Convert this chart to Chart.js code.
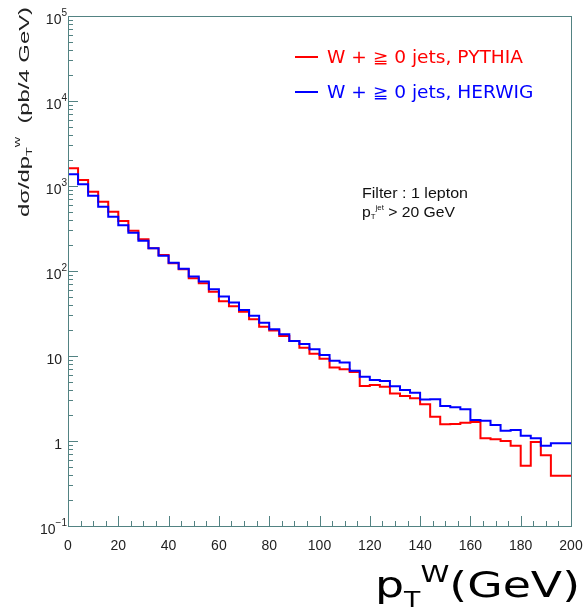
<!DOCTYPE html>
<html>
<head>
<meta charset="utf-8">
<script src="https://cdn.jsdelivr.net/npm/chart.js@4.4.1/dist/chart.umd.min.js"></script>
<style>
  html, body { margin: 0; padding: 0; background: #fff; }
  canvas { display: block; }
</style>
</head>
<body>
<canvas id="ptwChart" width="586" height="616"></canvas>
<script>
// bin lower edges (GeV), 4 GeV bins
const binEdges = [0, 4, 8, 12, 16, 20, 24, 28, 32, 36, 40, 44, 48, 52, 56, 60, 64, 68, 72, 76,
  80, 84, 88, 92, 96, 100, 104, 108, 112, 116, 120, 124, 128, 132, 136, 140, 144, 148, 152, 156,
  160, 164, 168, 172, 176, 180, 184, 188, 192, 196];
const binUpper = 200;

// dsigma/dpT (pb / 4 GeV)
const pythia = [1410, 1615, 1177, 857, 654, 499, 388, 298, 236, 185,
  154, 123, 105, 82, 72, 57, 44, 38.5, 33.2, 27,
  22.1, 19.9, 17.2, 15.0, 12.5, 10.6, 9.3, 7.3, 7.0, 6.5,
  4.44, 4.56, 4.35, 3.62, 3.39, 3.18, 2.71, 1.93, 1.57, 1.58,
  1.64, 1.67, 1.08, 1.05, 1.0, 0.88, 0.51, 0.97, 0.68, 0.39];
const herwig = [1008, 1373, 1047, 769, 571, 435, 345, 282, 227, 185,
  151, 125, 106, 86, 75, 61, 50, 42.6, 34.8, 29.8,
  24.6, 20.6, 18.0, 15.0, 13.8, 12.0, 10.3, 8.8, 8.4, 6.7,
  5.7, 5.22, 5.08, 4.4, 3.98, 3.7, 3.07, 3.1, 2.58, 2.49,
  2.36, 1.77, 1.73, 1.54, 1.32, 1.35, 1.15, 1.08, 0.88, 0.94];
const herwigFloor = 1; // blue outline starts from 1 at pT = 0

const seriesLabels = ['W + \u2267 0 jets, PYTHIA', 'W + \u2267 0 jets, HERWIG'];
const seriesColors = ['#ff0000', '#0000ff'];

const xTicks = [0, 20, 40, 60, 80, 100, 120, 140, 160, 180, 200];
const xMinorStep = 5;
const yDecades = [-1, 0, 1, 2, 3, 4, 5];
const yTickLabels = [['10', '\u22121'], ['1', ''], ['10', ''], ['10', '2'], ['10', '3'], ['10', '4'], ['10', '5']];

const filterLines = ['Filter : 1 lepton', '> 20 GeV'];

function histPoints(vals) {
  const pts = binEdges.map((x, i) => ({ x: x, y: vals[i] }));
  pts.push({ x: binUpper, y: vals[vals.length - 1] });
  return pts;
}

const herwigPts = [{ x: binEdges[0], y: herwigFloor }].concat(histPoints(herwig));

// draws a run of text pieces [text, size, dy], stretched to width w if given
function drawRich(ctx, pieces, x, y, family, w, align) {
  let total = 0;
  const widths = pieces.map(p => {
    ctx.font = p[1] + 'px ' + family;
    const m = ctx.measureText(p[0]).width;
    total += m;
    return m;
  });
  const s = w ? w / total : 1;
  let x0 = x;
  if (align === 'right') x0 = x - total * s;
  if (align === 'center') x0 = x - total * s / 2;
  ctx.save();
  ctx.translate(x0, y);
  ctx.scale(s, 1);
  ctx.textBaseline = 'alphabetic';
  ctx.textAlign = 'left';
  let cx = 0;
  pieces.forEach((p, i) => {
    ctx.font = p[1] + 'px ' + family;
    ctx.fillText(p[0], cx, p[2] || 0);
    cx += widths[i];
  });
  ctx.restore();
}

const frameColor = '#528282';
const sansFont = "'Liberation Sans', Arial, sans-serif";
const roundFont = "'DejaVu Sans', sans-serif";

const decorPlugin = {
  id: 'decor',
  afterDraw(chart) {
    const ctx = chart.ctx;
    const xs = chart.scales.x;
    const ys = chart.scales.y;
    const left = Math.round(xs.getPixelForValue(xs.min));
    const right = Math.round(xs.getPixelForValue(xs.max));
    const top = Math.round(ys.getPixelForValue(ys.max));
    const bottom = Math.round(ys.getPixelForValue(ys.min));

    ctx.save();
    ctx.strokeStyle = frameColor;
    ctx.lineWidth = 1;
    ctx.strokeRect(left + 0.5, top + 0.5, right - left, bottom - top);

    // y ticks (inside, left)
    ctx.beginPath();
    yDecades.forEach(e => {
      const base = Math.pow(10, e);
      let py = Math.round(ys.getPixelForValue(base)) + 0.5;
      ctx.moveTo(left, py); ctx.lineTo(left + 10, py);
      if (e < 5) {
        for (let m = 2; m <= 9; m++) {
          py = Math.round(ys.getPixelForValue(m * base)) + 0.5;
          ctx.moveTo(left, py); ctx.lineTo(left + 5, py);
        }
      }
    });
    // x ticks (inside, bottom)
    for (let v = xTicks[0]; v <= xTicks[xTicks.length - 1]; v += xMinorStep) {
      const px = Math.round(xs.getPixelForValue(v)) + 0.5;
      const len = xTicks.includes(v) ? 10 : 5;
      ctx.moveTo(px, bottom); ctx.lineTo(px, bottom - len);
    }
    ctx.stroke();

    // y tick labels
    ctx.fillStyle = '#222';
    yDecades.forEach((e, i) => {
      const py = ys.getPixelForValue(Math.pow(10, e));
      const lab = yTickLabels[i];
      if (lab[1]) {
        drawRich(ctx, [[lab[0], 14, 8], [lab[1], 10, 0]], left - 1, py, sansFont, 0, 'right');
      } else {
        drawRich(ctx, [[lab[0], 14, 8]], left - 6, py, sansFont, 0, 'right');
      }
    });

    // y axis title
    ctx.save();
    ctx.translate(29, 112);
    ctx.rotate(-Math.PI / 2);
    ctx.fillStyle = '#222';
    drawRich(ctx, [['d\u03c3/dp', 15, 0], ['T', 9, 3], ['w', 9, -9], ['  (pb/4 GeV)', 15, 0]],
      0, 0, sansFont, 210, 'center');
    ctx.restore();

    // legend
    const legendRows = [57, 92];
    ctx.font = '17px ' + roundFont;
    const legScale = 196 / ctx.measureText(seriesLabels[0]).width;
    seriesLabels.forEach((lab, i) => {
      const ly = legendRows[i];
      ctx.strokeStyle = seriesColors[i];
      ctx.lineWidth = 2;
      ctx.beginPath();
      ctx.moveTo(295, ly); ctx.lineTo(318, ly);
      ctx.stroke();
      ctx.fillStyle = seriesColors[i];
      ctx.font = '17px ' + roundFont;
      const w = ctx.measureText(lab).width * legScale;
      drawRich(ctx, [[lab, 17, 0]], 327, ly + 6, roundFont, w, 'left');
    });

    // filter note
    ctx.fillStyle = '#111';
    drawRich(ctx, [[filterLines[0], 14, 0]], 362, 198, sansFont, 106, 'left');
    drawRich(ctx, [['p', 14, 0], ['T', 7, 2], ['jet', 7, -7], [' ' + filterLines[1], 14, 0]],
      362, 217, sansFont, 93, 'left');

    // x axis title
    ctx.fillStyle = '#000';
    drawRich(ctx, [['p', 36, 0], ['T', 21, 10], ['W', 23, -15], ['(GeV)', 36, 0]],
      375, 597, roundFont, 205, 'left');
    ctx.restore();
  }
};

const ctx = document.getElementById('ptwChart').getContext('2d');

const ptwChart = new Chart(ctx, {
  type: 'line',
  data: {
    datasets: [{
      label: seriesLabels[0],
      data: histPoints(pythia),
      borderColor: seriesColors[0],
      borderWidth: 2,
      stepped: 'after',
      pointRadius: 0,
      fill: false,
      order: 1
    }, {
      label: seriesLabels[1],
      data: herwigPts,
      borderColor: seriesColors[1],
      borderWidth: 2,
      stepped: 'after',
      pointRadius: 0,
      fill: false,
      order: 0
    }]
  },
  options: {
    responsive: false,
    animation: false,
    devicePixelRatio: 1,
    layout: { padding: { left: 0, right: 15, top: 16, bottom: 0 } },
    plugins: {
      legend: { display: false },
      tooltip: { enabled: false },
      title: { display: false }
    },
    scales: {
      x: {
        type: 'linear',
        min: 0,
        max: 200,
        afterBuildTicks: s => { s.ticks = xTicks.map(v => ({ value: v })); },
        afterFit: s => { s.height = 90; s.paddingLeft = 0; s.paddingRight = 0; },
        ticks: {
          color: '#222',
          font: { family: sansFont, size: 14 },
          padding: 12,
          maxRotation: 0,
          autoSkip: false
        },
        grid: { display: false, drawTicks: false },
        border: { display: false }
      },
      y: {
        type: 'logarithmic',
        min: 0.1,
        max: 100000,
        afterFit: s => { s.width = 68; s.paddingTop = 0; s.paddingBottom = 0; },
        ticks: { display: false },
        grid: { display: false, drawTicks: false },
        border: { display: false }
      }
    }
  },
  plugins: [decorPlugin]
});
</script>
</body>
</html>
